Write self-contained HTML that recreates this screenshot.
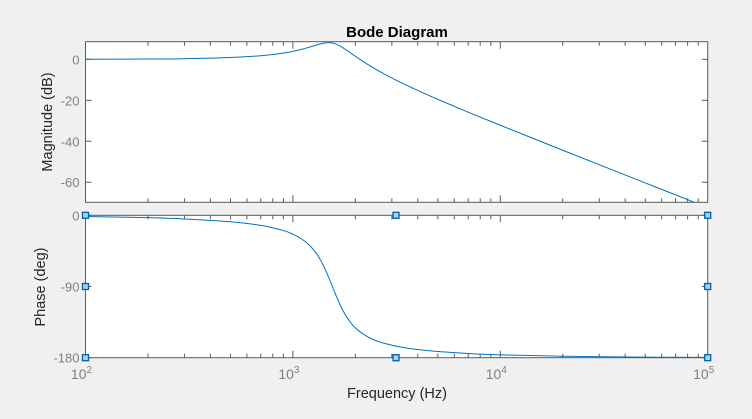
<!DOCTYPE html>
<html><head><meta charset="utf-8"><style>
html,body{margin:0;padding:0;background:#f0f0f0;}
svg{display:block;font-family:"Liberation Sans",Arial,sans-serif;}
</style></head><body>
<svg id="c" width="752" height="419" xmlns="http://www.w3.org/2000/svg">
<text x="397" y="37" text-anchor="middle" font-size="15" font-weight="bold" fill="#000">Bode Diagram</text>
<text transform="translate(52,122) rotate(-90)" text-anchor="middle" font-size="14.5" fill="#262626">Magnitude (dB)</text>
<text transform="translate(45,287) rotate(-90)" text-anchor="middle" font-size="14.5" fill="#262626">Phase (deg)</text>
<text x="397" y="398" text-anchor="middle" font-size="14.5" fill="#262626">Frequency  (Hz)</text>
</svg>
<script>
const freqs=[100,200,300,500,700,900,1000,1100,1200,1300,1400,1500,1550,1600,1700,1800,1900,2000,2100,2300,2500,2700,3200,4000,5000,7000,10000,20000,50000,100000];
const magDb=[0.03,0.13,0.30,0.87,1.76,3.07,3.90,4.85,5.91,6.98,7.84,8.13,7.96,7.57,6.31,4.72,3.07,1.50,0.04,-2.55,-4.74,-6.65,-10.54,-15.2,-19.55,-25.79,-32.19,-44.38,-60.34,-72.39];
const phaseDeg=[-1.5,-3.0,-4.6,-8.2,-12.8,-19.3,-23.9,-29.8,-37.7,-48.5,-63.0,-80.7,-90,-99.0,-114.8,-126.9,-135.7,-142.2,-147.0,-153.7,-158.1,-161.1,-165.8,-169.7,-172.2,-174.7,-176.4,-178.2,-179.3,-179.6];
const magTicks=[0,-20,-40,-60];
const phaseTicks=[0,-90,-180];
const xDecades=[2,3,4,5];

const svg=document.getElementById('c');
const NS='http://www.w3.org/2000/svg';
const L=85.5,R=707.7;
const top1=41.7,bot1=202.3,top2=215.3,bot2=357.7;
const magMin=-69.8,magMax=8.6;
function xs(f){return L+(Math.log10(f)-2)/3*(R-L);}
function ym(d){return bot1-(d-magMin)/(magMax-magMin)*(bot1-top1);}
function yp(p){return bot2-(p+180)/180*(bot2-top2);}
function mk(tag,at){const e=document.createElementNS(NS,tag);for(const k in at)e.setAttribute(k,at[k]);svg.appendChild(e);return e;}
function smooth(pts){
 let d='M'+pts[0][0].toFixed(2)+','+pts[0][1].toFixed(2);
 for(let i=0;i<pts.length-1;i++){
  const p0=pts[Math.max(0,i-1)],p1=pts[i],p2=pts[i+1],p3=pts[Math.min(pts.length-1,i+2)];
  const c1=[p1[0]+(p2[0]-p0[0])/6,p1[1]+(p2[1]-p0[1])/6];
  const c2=[p2[0]-(p3[0]-p1[0])/6,p2[1]-(p3[1]-p1[1])/6];
  d+='C'+c1[0].toFixed(2)+','+c1[1].toFixed(2)+' '+c2[0].toFixed(2)+','+c2[1].toFixed(2)+' '+p2[0].toFixed(2)+','+p2[1].toFixed(2);
 }
 return d;
}

const defs=mk('defs',{});
const cp=document.createElementNS(NS,'clipPath');cp.setAttribute('id','clip1');
const cr=document.createElementNS(NS,'rect');cr.setAttribute('x',L);cr.setAttribute('y',top1);cr.setAttribute('width',R-L);cr.setAttribute('height',bot1-top1);
cp.appendChild(cr);defs.appendChild(cp);

const p1=mk('rect',{x:L,y:top1,width:R-L,height:bot1-top1,fill:'#fff',stroke:'#5a5a5a','stroke-width':1});


const p2=mk('rect',{x:L,y:top2,width:R-L,height:bot2-top2,fill:'#fff',stroke:'#5a5a5a','stroke-width':1});



for(let d=2;d<5;d++){for(let m=1;m<10;m++){const x=xs(m*Math.pow(10,d));const len=m===1?7:4;
 for(const [t,b] of [[top1,bot1],[top2,bot2]]){
  mk('line',{x1:x,y1:t,x2:x,y2:t+len,stroke:'#5a5a5a'});
  mk('line',{x1:x,y1:b,x2:x,y2:b-len,stroke:'#5a5a5a'});
 }}}
xDecades.forEach(d=>{
 const t=mk('text',{x:xs(Math.pow(10,d))-4,y:379,'text-anchor':'middle','font-size':14,fill:'#808080'});
 
 
 t.textContent='10';
 const s=document.createElementNS(NS,'tspan');s.setAttribute('dy','-6');s.setAttribute('font-size','10');s.textContent=d;t.appendChild(s);
});
magTicks.forEach(v=>{
 const y=ym(v);
 mk('line',{x1:L,y1:y,x2:L+6,y2:y,stroke:'#5a5a5a'});
 mk('line',{x1:R,y1:y,x2:R-6,y2:y,stroke:'#5a5a5a'});
 const t=mk('text',{x:L-6,y:y+5,'text-anchor':'end','font-size':13,fill:'#808080'});
 
 
 t.textContent=v;
});
phaseTicks.forEach(v=>{
 const y=yp(v);
 mk('line',{x1:L,y1:y,x2:L+6,y2:y,stroke:'#5a5a5a'});
 mk('line',{x1:R,y1:y,x2:R-6,y2:y,stroke:'#5a5a5a'});
 const t=mk('text',{x:L-6,y:y+5,'text-anchor':'end','font-size':13,fill:'#808080'});
 
 
 t.textContent=v;
});

const magPath=mk('path',{d:smooth(freqs.map((f,i)=>[xs(f),ym(magDb[i])])),fill:'none',stroke:'#0072bd','stroke-width':1,'clip-path':'url(#clip1)'});


const phPath=mk('path',{d:smooth(freqs.map((f,i)=>[xs(f),yp(phaseDeg[i])])),fill:'none',stroke:'#0072bd','stroke-width':1});



const markerPts=[[L,0],[L,-90],[L,-180],[R,0],[R,-90],[R,-180],[396,0],[396,-180]];
markerPts.forEach(p=>{
 const m=mk('rect',{x:p[0]-3,y:yp(p[1])-3,width:6,height:6,fill:'#a8d0ec',stroke:'#0061a8','stroke-width':1.3});
 
 
});
</script>
</body></html>
